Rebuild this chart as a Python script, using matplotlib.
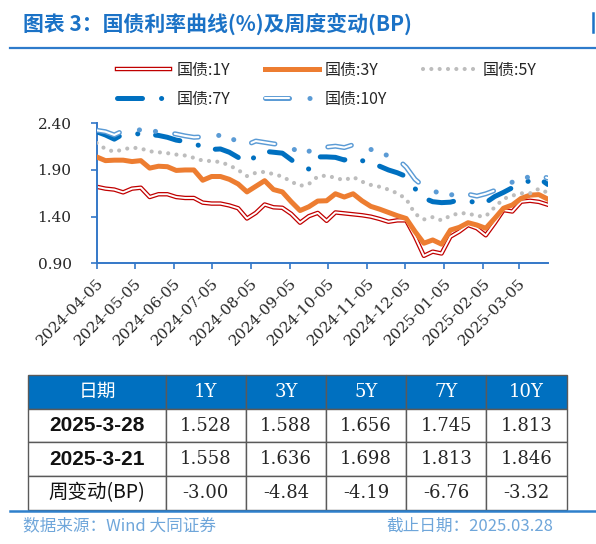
import numpy as np
import pandas as pd
import matplotlib
matplotlib.use('Agg')
import matplotlib.pyplot as plt
from matplotlib.lines import Line2D
from matplotlib.legend_handler import HandlerTuple
from matplotlib.font_manager import FontProperties

plt.rcParams['font.family'] = ['Noto Sans CJK SC', 'DejaVu Sans']
plt.rcParams['lines.scale_dashes'] = False
plt.rcParams['axes.unicode_minus'] = False

# ---------------- data ----------------
dates = pd.date_range('2024-04-05', '2025-03-28', freq='W-FRI')

y1 = [1.72, 1.70, 1.69, 1.66, 1.70, 1.71, 1.61, 1.64, 1.64, 1.61,
      1.60, 1.60, 1.55, 1.54, 1.54, 1.52, 1.49, 1.38, 1.44, 1.53,
      1.50, 1.495, 1.43, 1.335, 1.405, 1.44, 1.355, 1.445, 1.435, 1.425,
      1.415, 1.40, 1.375, 1.345, 1.36, 1.36, 1.185, 0.98, 1.025, 1.005,
      1.185, 1.24, 1.31, 1.275, 1.20, 1.33, 1.47, 1.455, 1.56, 1.57,
      1.558, 1.528]

y3 = [2.04, 2.00, 2.005, 2.005, 1.99, 2.00, 1.92, 1.94, 1.935, 1.895,
      1.90, 1.90, 1.79, 1.83, 1.83, 1.80, 1.75, 1.665, 1.725, 1.785,
      1.69, 1.665, 1.56, 1.465, 1.506, 1.567, 1.57, 1.645, 1.61, 1.645,
      1.57, 1.51, 1.48, 1.445, 1.41, 1.38, 1.24, 1.115, 1.15, 1.105,
      1.256, 1.285, 1.335, 1.31, 1.275, 1.38, 1.49, 1.525, 1.596, 1.63,
      1.636, 1.588]

y5 = [2.19, 2.125, 2.095, 2.12, 2.14, 2.13, 2.10, 2.09, 2.08, 2.065,
      2.055, 2.03, 2.00, 1.995, 1.985, 1.95, 1.90, 1.835, 1.87, 1.88,
      1.855, 1.83, 1.775, 1.73, 1.75, 1.83, 1.84, 1.815, 1.79, 1.825,
      1.775, 1.74, 1.72, 1.69, 1.65, 1.59, 1.43, 1.37, 1.395, 1.36,
      1.41, 1.437, 1.435, 1.405, 1.405, 1.50, 1.59, 1.625, 1.65, 1.65,
      1.698, 1.656]

y7 = [2.31, 2.275, 2.23, 2.285, 2.29, 2.285, 2.28, 2.27, 2.25, 2.22,
      2.205, 2.19, 2.14, 2.12, 2.125, 2.09, 2.035, 1.97, 2.05, 2.10,
      2.09, 2.08, 2.01, 1.935, 1.91, 2.04, 2.04, 2.035, 2.007, 2.04,
      2.00, 1.98, 1.94, 1.90, 1.87, 1.83, 1.70, 1.60, 1.56, 1.55,
      1.555, 1.58, 1.575, 1.54, 1.55, 1.615, 1.66, 1.71, 1.77, 1.78,
      1.813, 1.745]

y10 = [2.325, 2.31, 2.275, 2.32, 2.325, 2.33, 2.32, 2.31, 2.30, 2.285,
       2.265, 2.25, 2.255, 2.27, 2.27, 2.26, 2.19, 2.17, 2.21, 2.195,
       2.18, 2.17, 2.14, 2.08, 2.10, 2.14, 2.145, 2.155, 2.14, 2.17,
       2.15, 2.12, 2.09, 2.05, 2.02, 1.93, 1.80, 1.72, 1.68, 1.64,
       1.63, 1.66, 1.64, 1.62, 1.645, 1.68, 1.72, 1.77, 1.80, 1.83,
       1.846, 1.813]

series_labels = ['国债:1Y', '国债:3Y', '国债:5Y', '国债:7Y', '国债:10Y']
yticks = [0.90, 1.40, 1.90, 2.40]
ytick_labels = ['0.90', '1.40', '1.90', '2.40']
xtick_labels = ['2024-04-05', '2024-05-05', '2024-06-05', '2024-07-05',
                '2024-08-05', '2024-09-05', '2024-10-05', '2024-11-05',
                '2024-12-05', '2025-01-05', '2025-02-05', '2025-03-05']

table_cols = ['日期', '1Y', '3Y', '5Y', '7Y', '10Y']
table_rows = ['2025-3-28', '2025-3-21', '周变动(BP)']
vals_0328 = ['1.528', '1.588', '1.656', '1.745', '1.813']
vals_0321 = ['1.558', '1.636', '1.698', '1.813', '1.846']
weekly_bp = ['-3.00', '-4.84', '-4.19', '-6.76', '-3.32']

title = '图表 3：国债利率曲线(%)及周度变动(BP)'
source = '数据来源：Wind 大同证券'
cutoff = '截止日期：2025.03.28'

# ---------------- styles ----------------
RED = '#C00000'
ORANGE = '#ED7D31'
GREY = '#BDBDBD'
BLUE = '#0070C0'
LBLUE = '#5B9BD5'
AXBLUE = '#3478C8'
TBLUE = '#1B72C6'

ls5 = (0, (0.01, 5.99))
ls7 = (0, (18, 13.7, 0.1, 12.8))
ls10o = (0, (17.3, 14.7, 0.1, 11.5, 0.1, 13.9))
ls10i = (0, (17.3, 40.3))

fig = plt.figure(figsize=(5.96, 5.44), dpi=100)

# title
fig.text(23 / 596, 1 - 24 / 544, title, fontsize=15, fontweight='bold',
         color=TBLUE, ha='left', va='center')
fig.add_artist(Line2D([10 / 596, 1.0], [1 - 47.7 / 544] * 2,
                      transform=fig.transFigure, color='#2E7BCB', lw=1.6))
fig.add_artist(Line2D([593 / 596] * 2, [1 - 13 / 544, 1 - 32 / 544],
                      transform=fig.transFigure, color=TBLUE, lw=1.8))

# chart
ax = fig.add_axes([96.6 / 596, 1 - 263.3 / 544, (547.7 - 96.6) / 596, 140 / 544])
ax.plot(dates, y1, color=RED, lw=3.2, zorder=2)
ax.plot(dates, y1, color='white', lw=1.4, zorder=2)
ax.plot(dates, y3, color=ORANGE, lw=3.6, solid_joinstyle='round', zorder=3)
ax.plot(dates, y5, color=GREY, lw=3.0, ls=ls5, dash_capstyle='round', zorder=4)
ax.plot(dates, y7, color=BLUE, lw=3.6, ls=ls7, dash_capstyle='round',
        dash_joinstyle='round', zorder=5)
ax.plot(dates, y10, color=LBLUE, lw=3.6, ls=ls10o, dash_capstyle='round',
        dash_joinstyle='round', zorder=6)
ax.plot(dates, y10, color='white', lw=1.5, ls=ls10i, dash_capstyle='round',
        dash_joinstyle='round', zorder=6)

ax.set_ylim(0.9, 2.4)
ax.set_xlim(dates[0], dates[-1])
ax.set_yticks(yticks)
ax.set_yticklabels(ytick_labels)
xt = pd.to_datetime(xtick_labels)
ax.set_xticks(xt)
ax.set_xticklabels(xtick_labels, rotation=45, ha='right', rotation_mode='anchor')
for sp in ['top', 'right']:
    ax.spines[sp].set_visible(False)
for sp in ['left', 'bottom']:
    ax.spines[sp].set_color(AXBLUE)
    ax.spines[sp].set_linewidth(1.4)
ax.tick_params(axis='both', direction='out', length=4, width=1.2, color=AXBLUE)
ax.tick_params(axis='y', pad=14)
ax.tick_params(axis='x', pad=5)
tickfont = FontProperties(family='DejaVu Serif', size=11)
for lab in ax.get_xticklabels() + ax.get_yticklabels():
    lab.set_fontproperties(tickfont)
    lab.set_color('#262626')

# legend
h1 = (Line2D([], [], color=RED, lw=3.2), Line2D([], [], color='white', lw=1.4))
h3 = Line2D([], [], color=ORANGE, lw=3.6)
h5 = Line2D([], [], color=GREY, lw=3.0, ls=ls5, dash_capstyle='round')
h7 = Line2D([], [], color=BLUE, lw=3.6, ls=ls7, dash_capstyle='round')
h10 = (Line2D([], [], color=LBLUE, lw=3.6, ls=ls10o, dash_capstyle='round'),
       Line2D([], [], color='white', lw=1.5, ls=ls10i, dash_capstyle='round'))
handles = [h1, h7, h3, h10, h5]
labels = [series_labels[0], series_labels[3], series_labels[1],
          series_labels[4], series_labels[2]]
leg = fig.legend(handles, labels, ncol=3, loc='upper left',
                 bbox_to_anchor=(116.7 / 596, 1 - 62 / 544), frameon=False,
                 fontsize=11.5, handlelength=3.34, handletextpad=0.4,
                 columnspacing=2.2, labelspacing=0.75, borderpad=0,
                 borderaxespad=0,
                 handler_map={tuple: HandlerTuple(ndivide=1, pad=0)})
for t in leg.get_texts():
    t.set_color('#262626')

# table
tab_ax = fig.add_axes([28.3 / 596, 1 - 509.7 / 544, (566.7 - 28.3) / 596, (509.7 - 375) / 544])
tab_ax.axis('off')
cell_text = [[table_rows[0]] + vals_0328,
             [table_rows[1]] + vals_0321,
             [table_rows[2]] + weekly_bp]
colw = [137.4, 80.3, 80.3, 80.0, 80.4, 80.3]
colw = [c / sum(colw) for c in colw]
tbl = tab_ax.table(cellText=cell_text, colLabels=table_cols, colWidths=colw,
                   cellLoc='center', bbox=[0, 0, 1, 1])
tbl.auto_set_font_size(False)
f_head_cn = FontProperties(family='Noto Sans CJK SC', size=13.5)
f_num = FontProperties(family='DejaVu Serif', size=13)
f_date = FontProperties(family='Liberation Sans', weight='bold', size=15)
f_cn = FontProperties(family=['Noto Sans CJK SC', 'DejaVu Sans'], size=14)
for (r, c), cell in tbl.get_celld().items():
    cell.set_edgecolor('#5A5A5A')
    cell.set_linewidth(1.0)
    txt = cell.get_text()
    if r == 0:
        cell.set_facecolor(BLUE)
        txt.set_color('white')
        txt.set_fontproperties(f_head_cn if c == 0 else f_num)
    else:
        cell.set_facecolor('white')
        if c == 0:
            txt.set_fontproperties(f_cn if r == 3 else f_date)
            txt.set_color('#111111')
        else:
            txt.set_fontproperties(f_num)
            txt.set_color('#262626')

fig.add_artist(Line2D([10 / 596, 1.0], [1 - 511 / 544] * 2,
                      transform=fig.transFigure, color='#2E80CC', lw=1.8))

fig.text(22.7 / 596, 1 - 525.7 / 544, source, fontsize=12, style='italic',
         color='#6FA6DA', ha='left', va='center')
fig.text(553 / 596, 1 - 525.7 / 544, cutoff, fontsize=12, style='italic',
         color='#6FA6DA', ha='right', va='center')

fig.savefig('out.png', dpi=100)
